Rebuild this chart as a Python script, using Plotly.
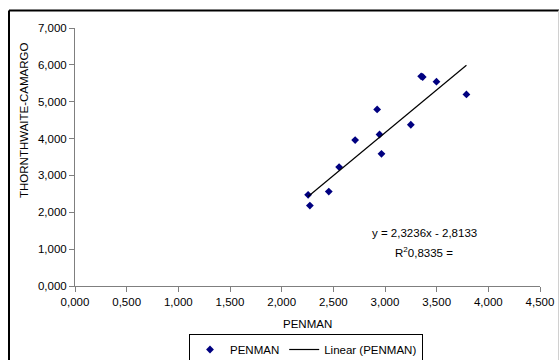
import numpy as np
import plotly.graph_objects as go

# Data
penman = [2.256, 2.273, 2.456, 2.556, 2.711, 2.924, 2.947, 2.966, 3.250, 3.350, 3.365, 3.498, 3.788]
thornthwaite = [2.473, 2.182, 2.562, 3.226, 3.959, 4.791, 4.111, 3.587, 4.375, 5.690, 5.670, 5.543, 5.198]
trend_slope = 2.3236
trend_intercept = -2.8133
r_squared_text = "0,8335"
x_ticks = [0, 0.5, 1.0, 1.5, 2.0, 2.5, 3.0, 3.5, 4.0, 4.5]
y_ticks = [0, 1, 2, 3, 4, 5, 6, 7]

FONT = "Liberation Sans, Arial, sans-serif"
W, H = 559, 360
L, R, T, B = 75, 19, 28, 74
pw, ph = W - L - R, H - T - B

def px_x(p):
    return (p - L) / pw

def px_y(p):
    return (H - B - p) / ph

trend_x = np.array([min(penman), max(penman)])
trend_y = trend_slope * trend_x + trend_intercept

fig = go.Figure()
fig.add_trace(go.Scatter(
    x=penman, y=thornthwaite, mode="markers", name="PENMAN",
    marker=dict(symbol="diamond", size=6, color="#000080"),
))
fig.add_trace(go.Scatter(
    x=trend_x, y=trend_y, mode="lines", name="Linear (PENMAN)",
    line=dict(color="black", width=1.2),
))

axis_common = dict(
    showgrid=False, zeroline=False, showline=True, linecolor="#7f7f7f", linewidth=1,
    ticks="outside", ticklen=5, tickcolor="#7f7f7f", tickwidth=1,
    tickfont=dict(family=FONT, size=11.5, color="black"), tickformat=".3f",
)
fig.update_xaxes(range=[0, 4.5], tickvals=x_ticks, **axis_common)
fig.update_yaxes(range=[0, 7], tickvals=y_ticks, **axis_common)

fig.add_annotation(text="PENMAN", xref="paper", yref="paper", x=0.5, y=px_y(324),
                   showarrow=False, font=dict(family=FONT, size=11.5, color="black"),
                   xanchor="center", yanchor="middle")
fig.add_annotation(text="THORNTHWAITE-CAMARGO", xref="paper", yref="paper",
                   x=px_x(24), y=px_y(120), textangle=-90, showarrow=False,
                   font=dict(family=FONT, size=11.5, color="black"),
                   xanchor="center", yanchor="middle")
fig.add_annotation(text="y = 2,3236x - 2,8133", xref="paper", yref="paper",
                   x=px_x(424.5), y=px_y(233), showarrow=False,
                   font=dict(family=FONT, size=11.5, color="black"),
                   xanchor="center", yanchor="middle")
fig.add_annotation(text="R<sup>2</sup>" + r_squared_text + " =", xref="paper", yref="paper",
                   x=px_x(424), y=px_y(252), showarrow=False,
                   font=dict(family=FONT, size=11.5, color="black"),
                   xanchor="center", yanchor="middle")

# outer chart border
fig.add_shape(type="line", xref="paper", yref="paper", x0=px_x(9), x1=px_x(559), y0=px_y(10.5), y1=px_y(10.5),
              line=dict(color="black", width=2))
fig.add_shape(type="line", xref="paper", yref="paper", x0=px_x(9), x1=px_x(9), y0=px_y(10.5), y1=px_y(362),
              line=dict(color="black", width=2))
fig.add_shape(type="line", xref="paper", yref="paper", x0=px_x(558.5), x1=px_x(558.5), y0=px_y(10.5), y1=px_y(362),
              line=dict(color="#d0d0d0", width=1))

fig.update_layout(
    width=W, height=H, margin=dict(l=L, r=R, t=T, b=B, autoexpand=False),
    paper_bgcolor="white", plot_bgcolor="white", separators=",.",
    showlegend=True,
    legend=dict(orientation="h", x=px_x(306), xanchor="center", y=px_y(334), yanchor="top",
                bordercolor="black", borderwidth=1, font=dict(family=FONT, size=11.5, color="black"),
                itemwidth=30, tracegroupgap=0),
)

fig.write_html(
    "out.html",
    config={"displayModeBar": False},
    post_script="document.body.style.margin='0';document.body.style.overflow='hidden';",
)
